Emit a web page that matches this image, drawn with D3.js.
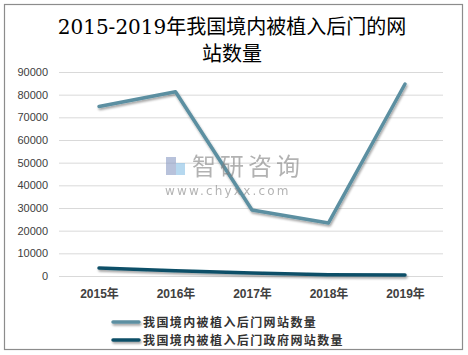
<!DOCTYPE html>
<html><head><meta charset="utf-8">
<script src="https://cdn.jsdelivr.net/npm/d3@7"></script>
<style>body{margin:0;background:#fff;}svg{display:block;}</style>
</head><body>
<svg id="c" width="468" height="355"></svg>
<script>
const categories = ["2015年","2016年","2017年","2018年","2019年"];
const seriesNames = ["我国境内被植入后门网站数量","我国境内被植入后门政府网站数量"];
const seriesAll = [74800, 81300, 29100, 23400, 84700];
const seriesGov = [3500, 2300, 1300, 500, 400];
const yTicks = [0,10000,20000,30000,40000,50000,60000,70000,80000,90000];
const colors = ["#5b8fa1", "#0e5068"];

const svg = d3.select("#c");
svg.append("rect").attr("x",4.5).attr("y",4.5).attr("width",458).attr("height",345)
  .attr("fill","#fff").attr("stroke","#8c8c8c").attr("stroke-width",1.2);

const tf = "'DejaVu Serif','Noto Sans CJK SC',serif";
svg.append("text").attr("x",232).attr("y",34).attr("text-anchor","middle")
  .style("font-family",tf).style("font-size","20px").attr("fill","#000")
  .text("2015-2019年我国境内被植入后门的网");
svg.append("text").attr("x",232).attr("y",61).attr("text-anchor","middle")
  .style("font-family",tf).style("font-size","20px").attr("fill","#000")
  .text("站数量");

const x = d3.scalePoint().domain(categories).range([99,405]);
const y = d3.scaleLinear().domain([0,90000]).range([276,72]);

const grid = svg.append("g");
grid.selectAll("line").data(yTicks).join("line")
  .attr("x1",59).attr("x2",443).attr("y1",d=>y(d)+0.5).attr("y2",d=>y(d)+0.5)
  .attr("stroke","#d9d9d9").attr("stroke-width",1);

const yAxis = d3.axisLeft(y).tickValues(yTicks).tickSize(0).tickPadding(0).tickFormat(d3.format("d"));
const ya = svg.append("g").attr("transform","translate(48,0)").call(yAxis);
ya.select(".domain").remove();
ya.selectAll("text").style("font-family","'Liberation Sans',Arial,sans-serif").style("font-size","11px").attr("fill","#404040");

const xAxis = d3.axisBottom(x).tickSize(0).tickPadding(0);
const xa = svg.append("g").attr("transform","translate(0,289)").call(xAxis);
xa.select(".domain").remove();
xa.selectAll("text").style("font-family","'Liberation Sans','Noto Sans CJK SC',sans-serif").style("font-size","12px").style("font-weight","bold").attr("fill","#404040");

const line = d3.line().x((d,i)=>x(categories[i])).y(d=>y(d));
const defs = svg.append("defs");
defs.append("filter").attr("id","sh").attr("filterUnits","userSpaceOnUse")
  .attr("x",0).attr("y",0).attr("width",468).attr("height",355)
  .append("feDropShadow").attr("dx",1).attr("dy",2).attr("stdDeviation",1.2).attr("flood-color","#000").attr("flood-opacity",0.35);

[seriesAll, seriesGov].forEach((s,i)=>{
  svg.append("path").datum(s).attr("d",line).attr("fill","none")
    .attr("stroke",colors[i]).attr("stroke-width",3.5).attr("stroke-linecap","round").attr("stroke-linejoin","round")
    .attr("filter","url(#sh)");
});

// watermark
const wm = svg.append("g").attr("opacity",0.6);
wm.append("rect").attr("x",166).attr("y",157).attr("width",10).attr("height",18).attr("fill","#8a9bc4");
wm.append("rect").attr("x",176).attr("y",163).attr("width",9).attr("height",12).attr("fill","#86bfe6");
wm.append("text").attr("x",192).attr("y",175).style("font-family","'Noto Sans CJK SC',sans-serif").style("font-size","24px").attr("fill","#808080").attr("letter-spacing","4px").text("智研咨询");
wm.append("text").attr("x",165).attr("y",195).style("font-family","'DejaVu Sans',sans-serif").style("font-size","12px").attr("fill","#808080").attr("letter-spacing","2.2px").text("www.chyxx.com");

const lg = svg.append("g");
seriesNames.forEach((n,i)=>{
  const yy = 322 + i*18;
  lg.append("line").attr("x1",113).attr("x2",139).attr("y1",yy).attr("y2",yy)
    .attr("stroke",colors[i]).attr("stroke-width",3.5).attr("stroke-linecap","round").attr("filter","url(#sh)");
  lg.append("text").attr("x",143).attr("y",yy+4.5).style("font-family","'Noto Sans CJK SC',sans-serif")
    .style("font-size","12px").attr("letter-spacing","1.4px").style("font-weight","bold").attr("fill","#333").text(n);
});
</script>
</body></html>
